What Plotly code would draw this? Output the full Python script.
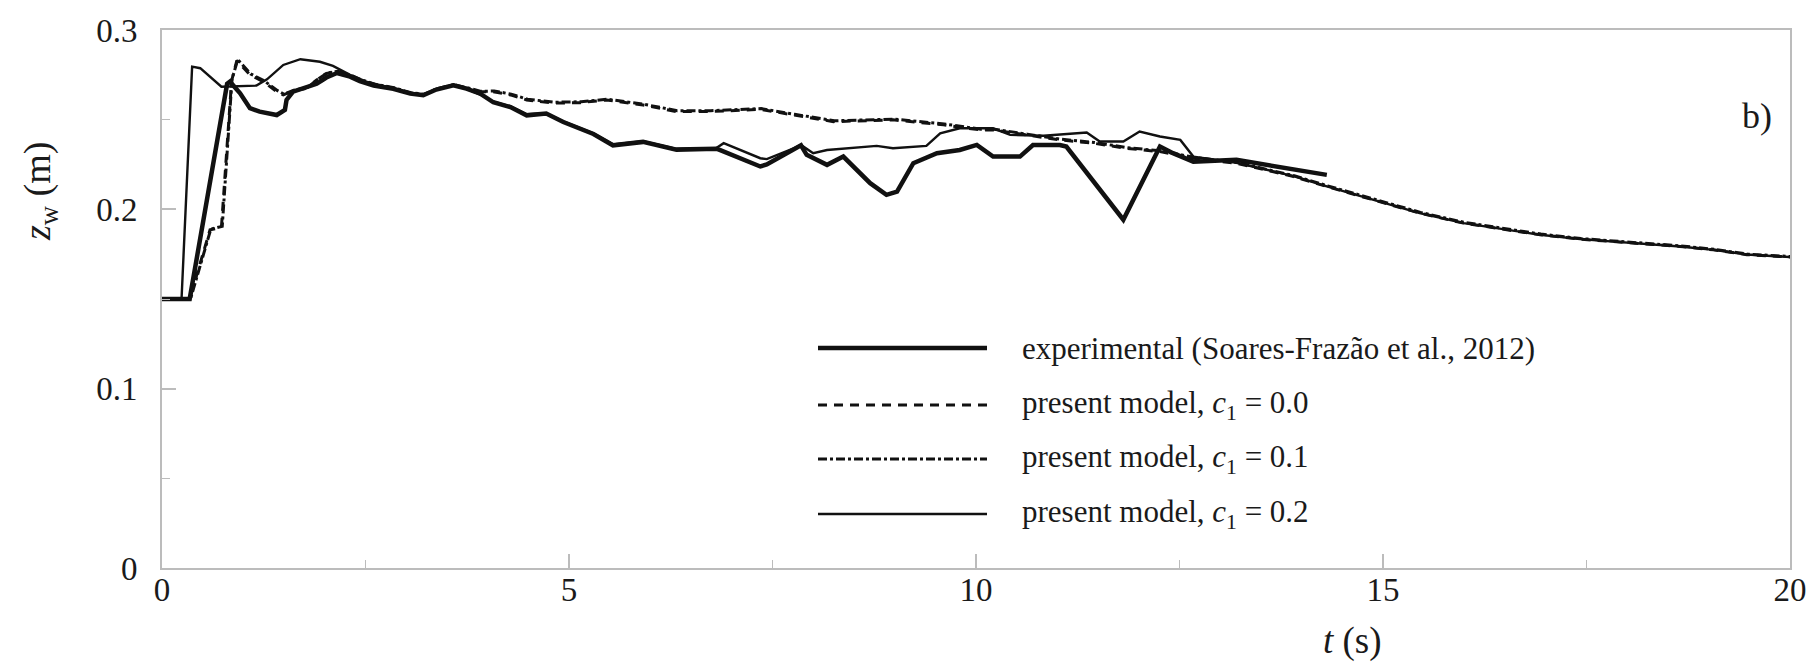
import plotly.graph_objects as go

# ---------------- data ----------------
t_exp = [0, 0.34, 0.80, 0.835, 0.96, 1.08, 1.20, 1.41, 1.51, 1.53, 1.61, 1.78, 1.90, 2.02, 2.15,
         2.31, 2.43, 2.60, 2.84, 3.05, 3.21, 3.37, 3.58, 3.74, 3.91, 4.07, 4.28, 4.48, 4.72,
         4.93, 5.30, 5.54, 5.91, 6.32, 6.81, 6.85, 7.35, 7.43, 7.76, 7.85, 7.92, 8.17, 8.37,
         8.70, 8.90, 9.03, 9.23, 9.52, 9.80, 10.01, 10.21, 10.54, 10.70, 11.03, 11.11, 11.81,
         12.26, 12.42, 12.67, 13.20, 14.31]
z_exp = [0.150, 0.150, 0.270, 0.2712, 0.2647, 0.2564, 0.2545, 0.2526, 0.2554, 0.2610, 0.2656,
         0.2680, 0.2700, 0.2735, 0.2760, 0.2740, 0.2715, 0.2690, 0.2672, 0.2645, 0.2636,
         0.2668, 0.2692, 0.2673, 0.2645, 0.2597, 0.2570, 0.2524, 0.2534, 0.2487, 0.2420,
         0.2357, 0.2376, 0.2333, 0.2338, 0.2331, 0.2239, 0.2250, 0.2338, 0.2357, 0.2304,
         0.2248, 0.2294, 0.2146, 0.2081, 0.2099, 0.2257, 0.2313, 0.2331, 0.2359, 0.2294,
         0.2294, 0.2359, 0.2359, 0.2350, 0.1942, 0.2350, 0.2313, 0.2266, 0.2276, 0.2192]

t_c00 = [0, 0.34, 0.59, 0.73, 0.855, 0.92, 1.08, 1.245, 1.41, 1.49, 1.61, 1.78, 1.90, 2.02,
         2.15, 2.31, 2.43, 2.60, 2.84, 3.05, 3.21, 3.37, 3.58, 3.74, 3.91, 4.07, 4.28, 4.48,
         4.81, 5.14, 5.46, 5.91, 6.32, 6.73, 7.35, 7.76, 8.25, 8.98, 9.60, 10.05, 10.21,
         10.62, 11.03, 11.44, 11.85, 12.26, 12.67, 13.20, 13.90, 14.31, 14.96, 15.45, 15.99,
         16.40, 16.93, 17.42, 18.03, 18.65, 19.06, 19.47, 20.0]
z_c00 = [0.150, 0.150, 0.1886, 0.1900, 0.2717, 0.2830, 0.2750, 0.2712, 0.2656, 0.2638, 0.2660,
         0.2675, 0.2721, 0.2758, 0.2768, 0.2745, 0.2721, 0.2695, 0.2675, 0.2647, 0.2638,
         0.2670, 0.2694, 0.2675, 0.2655, 0.2656, 0.2638, 0.2610, 0.2592, 0.2595, 0.2610,
         0.2582, 0.2545, 0.2545, 0.2558, 0.2526, 0.2489, 0.2499, 0.2471, 0.2443, 0.2443,
         0.2415, 0.2387, 0.2369, 0.2340, 0.2322, 0.2285, 0.2257, 0.2183, 0.2127, 0.2043,
         0.1979, 0.1923, 0.1895, 0.1858, 0.1834, 0.1815, 0.1793, 0.1774, 0.1747, 0.1734]

t_c01 = [0, 0.35, 0.60, 0.74, 0.86, 0.93, 1.09, 1.25, 1.42, 1.50, 1.62, 1.79, 1.91, 2.03,
         2.16, 2.32, 2.44, 2.61, 2.85, 3.06, 3.22, 3.38, 3.59, 3.75, 3.92, 4.08, 4.29, 4.49,
         4.82, 5.15, 5.47, 5.92, 6.33, 6.74, 7.36, 7.77, 8.26, 8.99, 9.61, 10.06, 10.22,
         10.63, 11.04, 11.45, 11.86, 12.27, 12.68, 13.21, 13.91, 14.32, 14.97, 15.46, 16.00,
         16.41, 16.94, 17.43, 18.04, 18.66, 19.07, 19.48, 20.0]
z_c01 = [0.150, 0.150, 0.1890, 0.1905, 0.2725, 0.2835, 0.2755, 0.2718, 0.2662, 0.2642, 0.2664,
         0.2680, 0.2724, 0.2760, 0.2770, 0.2748, 0.2724, 0.2698, 0.2678, 0.2650, 0.2642,
         0.2673, 0.2696, 0.2678, 0.2658, 0.2660, 0.2642, 0.2614, 0.2597, 0.2600, 0.2614,
         0.2586, 0.2550, 0.2550, 0.2562, 0.2530, 0.2494, 0.2503, 0.2476, 0.2447, 0.2447,
         0.2419, 0.2391, 0.2373, 0.2344, 0.2326, 0.2290, 0.2261, 0.2187, 0.2131, 0.2047,
         0.1983, 0.1927, 0.1899, 0.1862, 0.1837, 0.1818, 0.1796, 0.1777, 0.1750, 0.1737]

t_c02 = [0, 0.24, 0.37, 0.47, 0.73, 1.16, 1.29, 1.49, 1.70, 1.94, 2.10, 2.31, 2.51, 2.76,
         3.05, 3.21, 3.37, 3.58, 3.74, 3.91, 4.07, 4.28, 4.48, 4.72, 4.93, 5.30, 5.54, 5.91,
         6.32, 6.81, 6.90, 7.35, 7.43, 7.76, 7.85, 8.00, 8.17, 8.78, 8.98, 9.39, 9.56, 9.80,
         10.21, 10.42, 10.83, 11.36, 11.52, 11.81, 12.01, 12.26, 12.51, 12.67, 13.20, 13.90,
         14.31, 14.96, 15.45, 15.99, 16.40, 16.93, 17.42, 18.03, 18.65, 19.06, 19.47, 20.0]
z_c02 = [0.150, 0.150, 0.2796, 0.2787, 0.2684, 0.2690, 0.2725, 0.2805, 0.2837, 0.2823, 0.2800,
         0.2750, 0.2712, 0.2684, 0.2650, 0.2640, 0.2670, 0.2694, 0.2672, 0.2640, 0.2600,
         0.2575, 0.2530, 0.2536, 0.2490, 0.2424, 0.2362, 0.2380, 0.2337, 0.2342, 0.2369,
         0.2285, 0.2280, 0.2340, 0.2359, 0.2313, 0.2331, 0.2354, 0.2341, 0.2354, 0.2424,
         0.2452, 0.2452, 0.2415, 0.2410, 0.2428, 0.2378, 0.2378, 0.2434, 0.2406, 0.2387,
         0.2294, 0.2260, 0.2185, 0.2128, 0.2043, 0.1979, 0.1923, 0.1895, 0.1858, 0.1834,
         0.1815, 0.1793, 0.1774, 0.1748, 0.1734]

x_ticks = [0, 5, 10, 15, 20]
x_ticktext = ["0", "5", "10", "15", "20"]
y_ticks = [0, 0.1, 0.2, 0.3]
y_ticktext = ["0", "0.1", "0.2", "0.3"]

series_names = ["experimental (Soares-Frazão et al., 2012)",
                "present model, <i>c</i><sub>1</sub> = 0.0",
                "present model, <i>c</i><sub>1</sub> = 0.1",
                "present model, <i>c</i><sub>1</sub> = 0.2"]

# ---------------- styles ----------------
FONT = "Liberation Serif"
INK = "#111111"
TXT = "#1a1a1a"
AXC = "#bcbcbc"
styles = [dict(width=4.5, dash="solid"),
          dict(width=3.0, dash="9px,7px"),
          dict(width=3.0, dash="dashdot"),
          dict(width=2.4, dash="solid")]

fig = go.Figure()
data = [(t_exp, z_exp), (t_c00, z_c00), (t_c01, z_c01), (t_c02, z_c02)]
for (tx, zy), name, st in zip(data, series_names, styles):
    fig.add_trace(go.Scatter(x=tx, y=zy, mode="lines", name=name, showlegend=False,
                             line=dict(color=INK, width=st["width"], dash=st["dash"])))

# manual legend (long line samples, like the original)
L, R, T, B = 162, 30, 30, 99
W, H = 1820, 667
pw, ph = W - L - R, H - T - B
def px(x):
    return (x - L) / pw
def py(y):
    return (H - B - y) / ph

leg_rows = [348, 405, 459, 514]
shapes = []
annos = []
for row, name, st in zip(leg_rows, series_names, styles):
    shapes.append(dict(type="line", xref="paper", yref="paper",
                       x0=px(818), x1=px(987), y0=py(row), y1=py(row),
                       line=dict(color=INK, width=st["width"], dash=st["dash"])))
    annos.append(dict(text=name, xref="paper", yref="paper", x=px(1020), y=py(row),
                      xanchor="left", yanchor="middle", showarrow=False,
                      font=dict(family=FONT, size=31, color=TXT)))

annos.append(dict(text="b)", xref="paper", yref="paper", x=px(1757), y=py(116),
                  xanchor="center", yanchor="middle", showarrow=False,
                  font=dict(family=FONT, size=36, color=TXT)))
annos.append(dict(text="<i>t</i> (s)", xref="paper", yref="paper", x=px(1352), y=py(641),
                  xanchor="center", yanchor="middle", showarrow=False,
                  font=dict(family=FONT, size=37, color=TXT)))
annos.append(dict(text="<i>z</i><sub>w</sub> (m)", xref="paper", yref="paper", x=px(40),
                  y=py(192), xanchor="center", yanchor="middle", showarrow=False,
                  textangle=-90, font=dict(family=FONT, size=38, color=TXT)))

fig.update_layout(
    width=W, height=H,
    margin=dict(l=L, r=R, t=T, b=B),
    paper_bgcolor="white", plot_bgcolor="white",
    shapes=shapes, annotations=annos,
    font=dict(family=FONT, size=33, color=TXT),
    xaxis=dict(range=[0, 20], tickvals=x_ticks, ticktext=x_ticktext,
               showgrid=False, zeroline=False, showline=True, linecolor=AXC, linewidth=2,
               mirror=True, ticks="inside", ticklen=14, tickwidth=1.5, tickcolor=AXC,
               minor=dict(dtick=2.5, ticks="inside", ticklen=8, tickwidth=1.2, tickcolor=AXC),
               ticklabelstandoff=-9,
               tickfont=dict(family=FONT, size=33, color=TXT)),
    yaxis=dict(range=[0, 0.3], tickvals=y_ticks, ticktext=y_ticktext,
               showgrid=False, zeroline=False, showline=True, linecolor=AXC, linewidth=2,
               mirror=True, ticks="inside", ticklen=14, tickwidth=1.5, tickcolor=AXC,
               minor=dict(dtick=0.05, ticks="inside", ticklen=8, tickwidth=1.2, tickcolor=AXC),
               ticklabelstandoff=16,
               tickfont=dict(family=FONT, size=33, color=TXT)),
)

fig.write_html("out.html")
